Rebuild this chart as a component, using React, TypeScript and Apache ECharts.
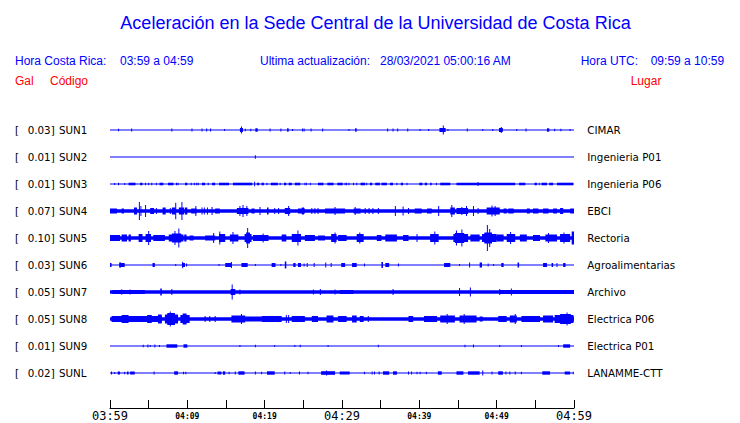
import React, { useEffect, useRef } from 'react';
import * as echarts from 'echarts';

// ---- data ----
const tickLabels = ['03:59', '04:09', '04:19', '04:29', '04:39', '04:49', '04:59'];
const galValues = ['0.03', '0.01', '0.01', '0.07', '0.10', '0.03', '0.05', '0.05', '0.01', '0.02'];
const codes = ['SUN1', 'SUN2', 'SUN3', 'SUN4', 'SUN5', 'SUN6', 'SUN7', 'SUN8', 'SUN9', 'SUNL'];
const places = ['CIMAR', 'Ingenieria P01', 'Ingenieria P06', 'EBCI', 'Rectoria', 'Agroalimentarias', 'Archivo', 'Electrica P06', 'Electrica P01', 'LANAMME-CTT'];
// resting half-amplitude of each trace
const baseAmp = [0.5, 0.5, 0.5, 1.7, 1.8, 0.5, 1.7, 1.8, 0.5, 0.5];

// events: [minute, halfAmp] (spike) or [startMinute, endMinute, halfAmp] (burst)
const sun1 = [[1.1, 1.2], [2.8, 1.5], [8.0, 1.5], [10.6, 1.5], [11.9, 1.5], [12.5, 1.5], [13.0, 1.5], [14.8, 1], [16.8, 17.2, 2], [17.0, 3.5], [17.5, 1.2], [18.2, 1.2], [18.8, 19.1, 1.7], [20.7, 1.5], [22.1, 1.5], [22.9, 23.1, 1.7], [23.6, 1], [24.9, 1.5], [25.1, 1.5], [26.0, 1.5], [27.5, 1.5], [30.9, 1], [31.7, 31.9, 1.7], [35.9, 1.5], [36.6, 1.5], [37.2, 1.5], [38.5, 1.5], [40.1, 1], [41.2, 1], [42.6, 43.4, 2], [43.1, 4.5], [43.7, 1], [46.2, 1.5], [48.2, 1], [49.5, 1], [50.3, 50.8, 2], [50.6, 3], [52.6, 1], [53.8, 1.5], [56.5, 56.8, 1.7], [57.5, 1.2], [58.3, 1.2], [59.5, 1]];
const sun2 = [[18.8, 1.7]];
const sun3 = [[0.6, 1], [1.1, 1.3], [1.9, 1], [2.4, 3.3, 1.3], [3.9, 4.2, 1.3], [4.6, 1.3], [5.0, 1.3], [5.4, 1.3], [6.0, 1.3], [6.4, 6.9, 1.3], [7.5, 8.2, 1.3], [8.6, 1.3], [8.8, 1.3], [9.7, 10.0, 1.3], [10.5, 1.3], [10.9, 1.3], [11.2, 1.3], [11.4, 1.3], [11.9, 12.3, 1.3], [12.7, 1.3], [13.2, 13.6, 1.3], [14.1, 15.4, 1.3], [15.9, 18.4, 1.3], [18.7, 2.2], [19.0, 19.3, 1.3], [19.6, 19.9, 1.3], [20.3, 1.3], [20.8, 21.7, 1.3], [22.0, 1.3], [22.5, 22.8, 1.3], [23.1, 23.5, 1.3], [23.9, 24.6, 1.3], [25.2, 1.3], [25.4, 1.3], [25.9, 1.3], [26.9, 27.6, 1.3], [28.1, 28.9, 1.3], [29.4, 30.1, 1.3], [30.4, 1.3], [30.6, 1.3], [30.9, 1.3], [31.5, 1.3], [31.9, 1.3], [32.4, 33.0, 1.3], [33.2, 1.3], [33.6, 33.9, 1.3], [34.3, 34.9, 1.3], [35.1, 35.8, 1.3], [36.2, 36.6, 1.3], [37.1, 1.3], [37.6, 37.9, 1.3], [38.4, 1.3], [40.0, 40.4, 1.3], [40.7, 41.0, 1.3], [41.4, 41.6, 1.3], [42.2, 1.3], [42.7, 44.0, 1.3], [44.8, 52.4, 1.3], [47.6, 2], [52.9, 53.7, 1.3], [54.9, 55.2, 1.3], [55.5, 1.3], [55.8, 56.5, 1.3], [56.8, 57.3, 1.3], [57.8, 59.9, 1.3]];
const sun4 = [[0.0, 0.9, 2.5], [1.5, 1.8, 2.5], [3.1, 3.5, 3.5], [3.8, 9], [4.0, 5], [4.6, 6], [5.2, 5.7, 3], [6.0, 3], [6.8, 7.2, 3.5], [7.8, 3], [8.0, 8.5, 3.5], [8.5, 8.3], [8.9, 9.6, 3.5], [9.3, 9], [9.7, 10.0, 3.5], [10.5, 11.2, 2.5], [11.1, 5], [11.9, 3.5], [12.2, 3.5], [12.6, 3.5], [13.2, 4], [13.6, 14.2, 2.5], [16.4, 17.9, 3], [16.8, 5], [17.2, 6], [17.7, 5], [18.3, 18.7, 2.5], [19.4, 4], [20.3, 20.5, 3.5], [21.3, 3], [21.8, 3], [22.6, 23.3, 3], [23.1, 5], [24.3, 25.2, 2.5], [24.8, 25.1, 3.5], [26.1, 3], [26.5, 3], [26.9, 3], [27.8, 30.4, 2.5], [29.1, 4], [31.5, 32.4, 2.5], [31.7, 4], [33.0, 3], [33.5, 3], [34.0, 3], [34.7, 3], [36.9, 5], [37.9, 4.5], [38.6, 3], [39.4, 40.3, 2.5], [41.0, 41.6, 2.5], [42.5, 5], [44.0, 44.6, 3.5], [44.2, 6], [44.8, 46.3, 3], [45.5, 4], [46.1, 5], [47.0, 5], [47.6, 3], [48.7, 50.4, 3.5], [49.4, 5.5], [49.8, 5], [50.9, 51.3, 2.5], [51.5, 52.2, 2.5], [53.9, 54.3, 2.5], [54.7, 55.4, 2.5], [56.0, 56.7, 2.5], [57.3, 57.8, 2.5], [58.2, 58.6, 3], [59.5, 60, 2.5]];
const sun5 = [[0.0, 1.3, 3], [1.5, 2.2, 3.5], [2.4, 2.7, 3.5], [3.7, 4.2, 4], [4.6, 5.3, 4], [5.0, 7], [5.6, 7.1, 3], [7.6, 9.5, 3.5], [8.0, 9.2, 4.5], [8.4, 7], [8.9, 9.5], [9.6, 9.9, 3.5], [10.3, 10.8, 2.5], [12.3, 13.6, 2.5], [13.4, 5], [14.1, 14.9, 4], [14.2, 6.5], [15.5, 16.6, 3.5], [15.9, 6], [17.4, 18.3, 4], [17.6, 18.1, 5.5], [17.8, 10], [18.5, 20.5, 3], [19.8, 4.5], [22.2, 22.8, 3.5], [23.5, 24.7, 4], [24.3, 7.5], [25.2, 26.5, 3], [26.9, 27.8, 2.5], [28.6, 29.3, 4], [29.1, 5.5], [29.5, 30.6, 3], [31.9, 32.8, 4], [32.3, 5.5], [34.5, 35.1, 3], [35.6, 37.1, 3.5], [37.9, 38.6, 3], [39.7, 4], [41.4, 42.5, 4], [42.0, 6.5], [44.4, 46.3, 4], [44.6, 45.8, 5], [44.8, 7.5], [45.5, 8.5], [46.6, 47.8, 3.5], [48.1, 50.0, 4], [48.4, 49.4, 5.5], [48.8, 13], [49.1, 9], [50.0, 50.9, 3.5], [51.3, 52.4, 4], [51.8, 6], [53.0, 53.9, 3.5], [54.7, 55.6, 3], [56.3, 57.8, 3.5], [56.7, 5], [58.2, 59.5, 4], [58.7, 5.5], [59.7, 60, 6.5]];
const sun6 = [[0.0, 0.2, 2], [1.2, 1.9, 2], [1.3, 3], [5.5, 5.8, 2], [8.5, 1], [9.3, 9.7, 2], [9.4, 3.3], [9.9, 1.5], [14.1, 1], [14.9, 15.7, 2], [15.7, 3], [17.0, 17.8, 2], [18.8, 1], [20.9, 21.4, 2], [22.1, 1], [22.6, 22.8, 3.5], [23.7, 24.0, 2], [24.3, 24.7, 2], [25.1, 1.5], [25.5, 2], [26.4, 2], [27.9, 2.5], [28.6, 2], [29.9, 30.4, 2], [31.3, 31.9, 2], [32.9, 1.5], [35.1, 35.3, 3], [35.6, 36.1, 2], [37.3, 1.5], [43.2, 44.0, 2], [45.2, 1], [46.5, 46.6, 2.5], [47.8, 48.1, 2.5], [48.9, 1.5], [49.6, 1], [50.6, 50.9, 2], [52.7, 52.9, 2.5], [56.0, 56.5, 2], [57.1, 57.3, 2], [57.8, 2], [58.6, 58.9, 2]];
const sun7 = [[0.3, 4.5, 2], [1.4, 1.6, 2.5], [2.6, 2.5], [6.5, 6.7, 3.5], [8.0, 3], [15.6, 16.2, 3], [15.8, 7.5], [16.8, 2.5], [26.3, 2.5], [27.2, 3], [29.1, 2.5], [29.7, 31.5, 2], [36.6, 3], [45.2, 4], [46.6, 4.5], [50.4, 3], [51.9, 3.5], [50.4, 60, 2]];
const sun8 = [[0.2, 6.7, 3], [1.5, 2.4, 4], [4.8, 5.4, 4], [6.2, 6.7, 4.5], [7.1, 8.8, 4.5], [7.4, 8.4, 6], [7.8, 7.5], [9.1, 10.3, 4], [9.4, 9.9, 5.5], [12.3, 3], [12.9, 3], [13.6, 3], [15.7, 17.5, 3.5], [17.0, 5], [17.5, 19.6, 2.5], [19.6, 22.2, 3], [22.8, 4], [23.1, 4], [23.5, 25.2, 3], [26.1, 26.9, 3], [28.0, 28.9, 3.5], [29.5, 30.6, 3], [31.3, 31.9, 3.5], [32.3, 32.8, 3], [33.4, 3], [38.6, 39.2, 3], [40.6, 42.3, 3], [42.7, 44.6, 3.5], [43.6, 5], [45.2, 47.4, 3.5], [45.8, 5], [47.8, 48.2, 2.5], [50.2, 51.3, 3], [51.7, 52.6, 3.5], [52.4, 5], [53.2, 55.6, 3], [56.0, 57.3, 3.5], [57.5, 59.9, 4], [58.2, 59.6, 5], [59.1, 6.5], [59.9, 60, 3.5]];
const sun9 = [[4.3, 1.2], [4.9, 1.5], [5.2, 1], [5.8, 1.5], [6.4, 1], [7.3, 8.7, 1.7], [9.5, 10.0, 1.7], [16.8, 1], [18.8, 1.2], [21.3, 1], [23.9, 1], [24.6, 1.2], [28.2, 1], [34.7, 1.2], [45.9, 1.2], [47.0, 1.5], [50.4, 1], [53.2, 1], [58.0, 1], [58.6, 59.5, 1.7]];
const sunl = [[0.2, 1.5], [0.6, 1], [1.0, 1.3, 1.5], [1.9, 1.2], [2.2, 2.4, 1.5], [2.6, 3.2, 1.5], [5.7, 1.5], [8.3, 8.8, 1.7], [9.5, 1.2], [9.8, 1.2], [13.6, 1], [13.9, 14.4, 1.5], [14.6, 14.9, 1.7], [15.4, 1.2], [16.2, 1.5], [16.6, 17.4, 1.7], [18.8, 1.5], [19.6, 1.2], [20.3, 21.3, 1.7], [22.6, 1.5], [23.3, 1], [24.5, 1.5], [25.6, 1.2], [27.3, 29.1, 1.8], [28.0, 2.5], [29.7, 31.0, 1.5], [32.9, 1.2], [33.9, 1.5], [34.2, 1.5], [34.8, 1.5], [35.3, 36.1, 1.7], [36.6, 37.1, 1.7], [38.6, 1.5], [39.0, 1.5], [39.7, 1.2], [40.1, 1.2], [40.9, 1.2], [42.4, 42.9, 1.7], [44.8, 45.7, 1.7], [46.3, 47.8, 1.7], [48.2, 2.5], [49.4, 1.5], [50.2, 50.8, 1.7], [51.2, 1.5], [51.7, 1.5], [52.4, 1.5], [53.2, 1.2], [55.9, 56.9, 1.7], [58.8, 59.5, 1.5], [59.9, 1.2]];
const traces = [sun1, sun2, sun3, sun4, sun5, sun6, sun7, sun8, sun9, sunl];

// ---- layout / style ----
const BLUE = '#0000ff';
const RED = '#ff0000';
const ROW = 27;
const SANS = '"Liberation Sans", Arial, Helvetica, sans-serif';
const DEJA = '"DejaVu Sans", sans-serif';

export default function App() {
  const ref = useRef<HTMLDivElement>(null);

  useEffect(() => {
    document.body.style.margin = '0';
    const chart = echarts.init(ref.current!, null, { renderer: 'svg' });

    const items: number[][] = [];
    traces.forEach((tr, row) => {
      items.push([0, 60, baseAmp[row], row]);
      tr.forEach((e) => {
        if (e.length === 2) items.push([e[0], e[0], e[1], row]);
        else items.push([e[0], e[1], e[2], row]);
      });
    });

    const txt = (x: number, y: number, text: string, font: string, fill: string, align = 'left') => ({
      type: 'text',
      x,
      y,
      silent: true,
      style: {
        text,
        font,
        fill,
        align,
        textAlign: align,
        verticalAlign: 'middle',
        textVerticalAlign: 'middle',
      },
    });

    const graphics: any[] = [
      txt(375.5, 23, 'Aceleración en la Sede Central de la Universidad de Costa Rica', `18px ${SANS}`, BLUE, 'center'),
      txt(15, 61, 'Hora Costa Rica:', `12px ${SANS}`, BLUE),
      txt(120, 61, '03:59 a 04:59', `12px ${SANS}`, BLUE),
      txt(260, 61, 'Ultima actualización:', `12px ${SANS}`, BLUE),
      txt(380, 61, '28/03/2021 05:00:16 AM', `12px ${SANS}`, BLUE),
      txt(580.7, 61, 'Hora UTC:', `12px ${SANS}`, BLUE),
      txt(650.7, 61, '09:59 a 10:59', `12px ${SANS}`, BLUE),
      txt(15, 81, 'Gal', `12px ${SANS}`, RED),
      txt(50, 81, 'Código', `12px ${SANS}`, RED),
      txt(630.7, 81, 'Lugar', `12px ${SANS}`, RED),
    ];
    codes.forEach((c, i) => {
      const y = 130 + ROW * i;
      graphics.push(txt(15, y, '[', `10.3px ${DEJA}`, '#000'));
      graphics.push(txt(27.7, y, galValues[i] + ']', `10.3px ${DEJA}`, '#000'));
      graphics.push(txt(59, y, c, `10.3px ${DEJA}`, '#000'));
      graphics.push(txt(587.3, y, places[i], `10.3px ${DEJA}`, '#000'));
    });

    chart.setOption({
      animation: false,
      backgroundColor: '#ffffff',
      grid: { left: 110, right: 166, top: 103, bottom: 23 },
      xAxis: {
        type: 'value',
        min: 0,
        max: 60,
        interval: 5,
        position: 'bottom',
        offset: 8,
        splitLine: { show: false },
        axisLine: { show: true, onZero: false, lineStyle: { color: '#000', width: 1 } },
        axisTick: { show: true, inside: true, length: 8, lineStyle: { color: '#000', width: 1 } },
        axisLabel: {
          margin: 0,
          showMinLabel: true,
          showMaxLabel: true,
          hideOverlap: false,
          formatter: (v: number) => {
            if (Math.round(v) % 10 !== 0) return '';
            const i = Math.round(v / 10);
            const s = tickLabels[i];
            return i % 3 === 0 ? `{b|${s}}` : `{s|${s}}`;
          },
          rich: {
            b: { fontFamily: '"DejaVu Sans Mono", monospace', fontSize: 12, lineHeight: 16, color: '#000' },
            s: { fontFamily: '"DejaVu Sans Mono", monospace', fontSize: 8, fontWeight: 'bold', lineHeight: 16, color: '#000' },
          },
        },
      },
      yAxis: { type: 'value', min: 0, max: ROW * 11, inverse: true, show: false },
      graphic: graphics,
      series: [
        {
          type: 'custom',
          silent: true,
          clip: false,
          encode: { x: [0, 1], y: 2 },
          data: items,
          renderItem: (params: any, api: any) => {
            const t0 = api.value(0);
            const t1 = api.value(1);
            const amp = api.value(2);
            const row = api.value(3);
            const p0 = api.coord([t0, (row + 1) * ROW]);
            const p1 = api.coord([t1, (row + 1) * ROW]);
            const h = api.size([0, amp])[1];
            let x = p0[0];
            let w = p1[0] - p0[0];
            if (w < 1) {
              x = p0[0] - 0.5;
              w = 1;
            }
            return {
              type: 'rect',
              shape: { x, y: p0[1] - h, width: w, height: 2 * h },
              style: { fill: BLUE },
            };
          },
        },
      ],
    });

    return () => chart.dispose();
  }, []);

  return <div ref={ref} style={{ position: 'absolute', left: 0, top: 0, width: 740, height: 423 }} />;
}
